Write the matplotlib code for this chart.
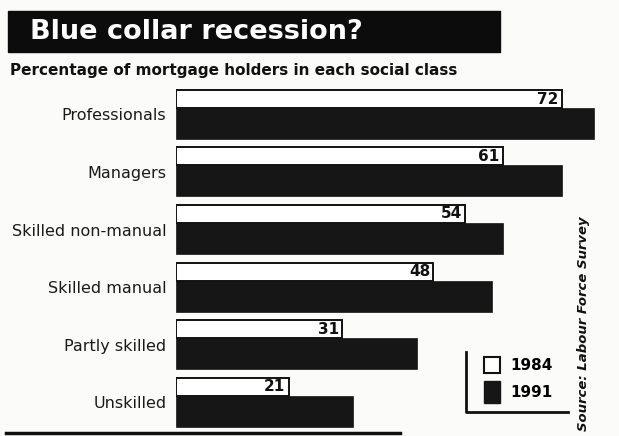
import matplotlib.pyplot as plt
from matplotlib.patches import Rectangle
from matplotlib.lines import Line2D

# Data (percentage of mortgage holders)
classes = ["Professionals", "Managers", "Skilled non-manual",
           "Skilled manual", "Partly skilled", "Unskilled"]
values_1984 = [72, 61, 54, 48, 31, 21]
values_1991 = [78, 72, 61, 59, 45, 33]
years = ["1984", "1991"]

W, H = 619, 436
BG = "#fbfbf9"
DARK = "#161616"
plt.rcParams['font.family'] = ['DejaVu Sans']

fig = plt.figure(figsize=(W / 100, H / 100), dpi=100, facecolor=BG)


def fx(px):
    return px / W


def fy(py):
    return 1 - py / H


# title banner
fig.patches.append(Rectangle((fx(8), fy(52)), fx(492), 41 / H,
                             transform=fig.transFigure, color="#0c0c0c", zorder=0))
fig.text(fx(30), fy(32), "Blue collar recession?", color="white",
         fontsize=19.5, fontweight="bold", va="center", ha="left")
fig.text(fx(10), fy(71), "Percentage of mortgage holders in each social class",
         fontsize=11, fontweight="bold", va="center", ha="left", color="#111111")

# bar axes: left edge at 176px, 5.36 px per unit
ax_left, ax_top, ax_bot = 176, 85, 430
xmax = 82
ax = fig.add_axes([fx(ax_left), fy(ax_bot), xmax * 5.36 / W, (ax_bot - ax_top) / H])
ax.set_facecolor("none")

h_white = 18 / 57.5
h_dark = 31 / 57.5
pos = list(range(len(classes)))
top = [p - (h_white + h_dark) / 2 for p in pos]
ax.barh([t + h_white / 2 for t in top], values_1984, height=h_white,
        color="white", edgecolor="#111111", linewidth=1.4, zorder=3)
ax.barh([t + h_white + h_dark / 2 for t in top], values_1991, height=h_dark,
        color=DARK, edgecolor=DARK, linewidth=0.5, zorder=2)

for t, v in zip(top, values_1984):
    ax.text(v - 0.6, t + h_white / 2, str(v), ha="right", va="center",
            fontsize=11, fontweight="bold", color="#111111", zorder=4)

ax.set_xlim(0, xmax)
first_top = top[0]
ax.set_ylim(first_top + (ax_bot - 90) / 57.5, first_top - 5 / 57.5)
ax.set_yticks(pos)
ax.set_yticklabels(classes, fontsize=11.5, color="#1a1a1a")
ax.tick_params(axis="y", length=0, pad=7)
ax.set_xticks([])
for s in ax.spines.values():
    s.set_visible(False)

# legend with L-shaped frame
fig.add_artist(Line2D([fx(466), fx(466), fx(568)], [fy(352), fy(412), fy(412)],
                      color="#111111", linewidth=2))
fig.patches.append(Rectangle((fx(484), fy(373)), fx(16), 16 / H, transform=fig.transFigure,
                             facecolor="white", edgecolor="#111111", linewidth=1.5))
fig.patches.append(Rectangle((fx(484), fy(403)), fx(16), 22 / H, transform=fig.transFigure,
                             facecolor=DARK, edgecolor=DARK))
fig.text(fx(510), fy(366), years[0], fontsize=11, fontweight="bold", va="center")
fig.text(fx(510), fy(392), years[1], fontsize=11, fontweight="bold", va="center")

# source, rotated
fig.text(fx(584), fy(324), "Source: Labour Force Survey", rotation=90,
         fontsize=9.5, fontweight="bold", style="italic", ha="center", va="center",
         color="#111111")

# bottom rule
fig.add_artist(Line2D([fx(6), fx(400)], [fy(433), fy(433)], color="#111111", linewidth=2.5))

fig.savefig("out.png", dpi=100, facecolor=BG)
